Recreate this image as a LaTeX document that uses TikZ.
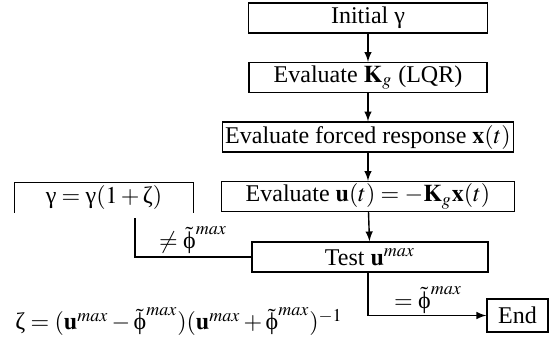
\documentclass[tikz,border=0pt]{standalone}
\usepackage{mathptmx}
\usepackage{fontspec}
\setmainfont{Liberation Serif}
\usetikzlibrary{arrows}

\newcommand{\gam}{\mbox{\normalfont γ}}
\newcommand{\zet}{\mbox{\normalfont ζ}}
\newcommand{\phm}{\tilde{\mbox{\normalfont ϕ}}^{max}}

\begin{document}
\begin{tikzpicture}[
  x=0.5pt, y=-0.5pt,
  font=\fontsize{12}{14}\selectfont,
  line width=0.7pt,
  box/.style={draw, minimum height=15pt, inner sep=1pt},
  edge/.style={-latex},
  lbl/.style={inner sep=1pt}
]
\useasboundingbox (0,0) rectangle (554,344);

%======================
% MAIN CHAIN
%======================

% boxes
\node[box, minimum width=119.5pt] (init) at (368,18) {Initial γ};
\node[box, minimum width=119pt] (kg) at (368,77.5) {Evaluate $\mathbf{K}_g$ (LQR)};
\node[box, minimum width=145.5pt] (forced) at (368,137) {Evaluate forced response $\mathbf{x}(t)$};
\node[box, minimum width=146.5pt] (ut) at (368,196.5) {Evaluate $\mathbf{u}(t)=-\mathbf{K}_g\mathbf{x}(t)$};
\node[box, minimum width=118pt] (test) at (370,257) {Test $\mathbf{u}^{max}$};
\node[box, minimum width=30.5pt, minimum height=16.5pt] (end) at (517.5,315.5) {End};

% downward arrows
\draw[edge] (init) -- (kg);
\draw[edge] (kg) -- (forced);
\draw[edge] (forced) -- (ut);
\draw[edge] (ut) -- (test);

%======================
% TEST BRANCHES
%======================

% update box (bottom side not drawn)
\node[minimum width=89pt, minimum height=14.5pt, inner sep=1pt] (gam) at (104,197.5) {$\gam=\gam(1+\zet)$};
\draw (gam.south west) |- (gam.north east) -- (gam.south east);

% not reached -> update gamma
\draw (test.west) -| ([xshift=15.5pt, yshift=-2.5pt]gam.south);
\node[lbl] (ne) at (193,240) {$\neq\phm$};

% reached -> end
\draw[edge] ([xshift=-1pt]test.south) |- (end.west);
\node[lbl] (eq) at (428,300) {$=\phm$};

% update rule
\node[lbl] (rule) at (179,322) {$\zet=(\mathbf{u}^{max}-\phm)(\mathbf{u}^{max}+\phm)^{-1}$};

\end{tikzpicture}
\end{document}
